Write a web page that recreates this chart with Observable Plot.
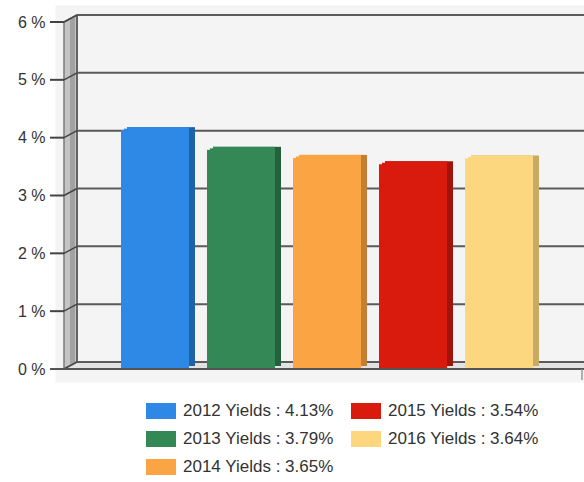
<!DOCTYPE html>
<html><head><meta charset="utf-8">
<script src="https://cdn.jsdelivr.net/npm/d3@7"></script>
<script src="https://cdn.jsdelivr.net/npm/@observablehq/plot@0.6"></script>
<style>
body{margin:0;background:#fff;font-family:"Liberation Sans",Arial,sans-serif;}
#chart{width:584px;}
.legend{display:grid;grid-auto-flow:column;grid-template-rows:repeat(3,28px);grid-template-columns:205px 200px;margin:13px 0 0 146px;}
.item{display:flex;align-items:center;height:16px;font-size:17px;color:#333;white-space:nowrap;}
.sw{width:30px;height:16px;margin-right:7px;flex:none;}
</style></head><body><div id="chart"></div><script>
const years = ["2012","2013","2014","2015","2016"];
const yields = [4.13, 3.79, 3.65, 3.54, 3.64];
const frontColors = ["#2e88e6","#348855","#fba443","#d91b0e","#fdd77f"];
const sideColors = ["#1f62aa","#24603c","#c47f30","#a0140a","#c9aa63"];
const yTicks = [0,1,2,3,4,5,6];

const data = years.map((y,i)=>({year:y, value:yields[i], front:frontColors[i], side:sideColors[i]}));
const DX = 13, DY = 7;

function decor(index, scales, values, dims) {
  const y = scales.y;
  const {width, marginLeft} = dims;
  const g = d3.create("svg:g");
  const x0 = marginLeft, xb = marginLeft + DX, xr = width;
  const y0 = y(0), y6 = y(6);
  g.append("path").attr("d", `M${x0},${y0}L${x0},${y6}L${xb},${y6-DY}L${xb},${y0-DY}Z`)
    .attr("fill","#c4c4c4").attr("stroke","#7a7a7a").attr("stroke-width",1.5);
  g.append("rect").attr("x", x0+6).attr("y", y6-DY+3).attr("width", 5).attr("height", y0-y6)
    .attr("fill","#a2a2a2");
  g.append("path").attr("d", `M${x0},${y0}L${xb},${y0-DY}L${xr},${y0-DY}L${xr},${y0}Z`)
    .attr("fill","#e2e2e2");
  g.append("line").attr("x1",xb).attr("x2",xb).attr("y1",y6-DY).attr("y2",y0-DY)
    .attr("stroke","#555").attr("stroke-width",1.5);
  for (const t of yTicks) {
    const yy = y(t);
    g.append("line").attr("x1",xb).attr("x2",xr).attr("y1",yy-DY).attr("y2",yy-DY)
      .attr("stroke","#5a5a5a").attr("stroke-width",2);
    g.append("line").attr("x1",x0).attr("x2",xb).attr("y1",yy).attr("y2",yy-DY)
      .attr("stroke","#444").attr("stroke-width",1.5);
    g.append("line").attr("x1",x0-14).attr("x2",x0).attr("y1",yy).attr("y2",yy)
      .attr("stroke","#444").attr("stroke-width",2);
  }
  return g.node();
}

function floorFront(index, scales, values, dims) {
  const y = scales.y;
  const {width, marginLeft} = dims;
  const g = d3.create("svg:g");
  const y0 = y(0);
  g.append("line").attr("x1",marginLeft-14).attr("x2",width).attr("y1",y0).attr("y2",y0)
    .attr("stroke","#555").attr("stroke-width",2);
  g.append("line").attr("x1",width-2).attr("x2",width-2).attr("y1",y0).attr("y2",y0+11)
    .attr("stroke","#999").attr("stroke-width",1.5);
  return g.node();
}

const plot = Plot.plot({
  width: 584, height: 390,
  marginLeft: 64, marginRight: 0, marginTop: 22, marginBottom: 21,
  style: {fontFamily: "Liberation Sans, Arial, sans-serif", fontSize: "16px", color: "#333", background: "transparent", overflow: "visible"},
  x: {type: "band", domain: years, paddingInner: 0.21, paddingOuter: 0.621, align: 0.523, axis: null},
  y: {domain: [0, 6], ticks: yTicks, tickFormat: d => d + " %", tickSize: 0, tickPadding: 19, label: null},
  color: {type: "identity"},
  marks: [
    Plot.frame({fill: "#f4f4f4", stroke: "none", insetLeft: -9, insetTop: -17, insetBottom: -13}),
    decor,
    Plot.barY(data, {x: "year", y: "value", fill: "side", dx: 6, dy: -3}),
    Plot.barY(data, {x: "year", y: "value", fill: "front", dx: 6, dy: -3, insetRight: 6}),
    Plot.barY(data, {x: "year", y: "value", fill: "front", dx: 3, dy: -1.5, insetRight: 3}),
    Plot.barY(data, {x: "year", y: "value", fill: "front"}),
    floorFront
  ]
});
const chart = document.getElementById("chart");
chart.appendChild(plot);

const legend = document.createElement("div");
legend.className = "legend";
years.forEach((yr, i) => {
  const it = document.createElement("div");
  it.className = "item";
  const sw = document.createElement("span");
  sw.className = "sw";
  sw.style.background = frontColors[i];
  it.appendChild(sw);
  it.appendChild(document.createTextNode(`${yr} Yields : ${yields[i].toFixed(2)}%`));
  legend.appendChild(it);
});
chart.appendChild(legend);
</script></body></html>
